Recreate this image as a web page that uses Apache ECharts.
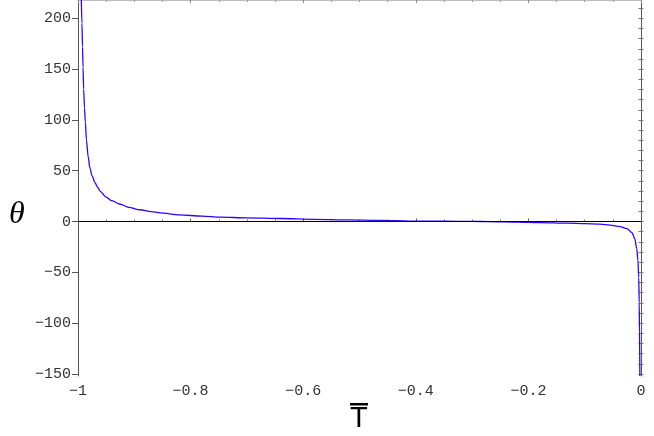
<!DOCTYPE html>
<html>
<head>
<meta charset="utf-8">
<script src="https://cdn.jsdelivr.net/npm/echarts@6/dist/echarts.min.js"></script>
<style>
  html, body { margin: 0; padding: 0; background: #fff; }
  #theta-chart { width: 654px; height: 436px; }
</style>
</head>
<body>
<div id="theta-chart"></div>
<script>
// reduced temperature T̄ and angle θ
const tValues = [
  -0.9941, -0.9930, -0.9920, -0.9910, -0.9900, -0.9885, -0.9870, -0.9850,
  -0.9820, -0.9790, -0.9750, -0.9700, -0.9650, -0.9600, -0.9500, -0.9400,
  -0.9250, -0.9100, -0.8900, -0.8700, -0.8540, -0.8200, -0.7800, -0.7470,
  -0.7000, -0.6400, -0.5800, -0.5200, -0.4600, -0.4100, -0.3500, -0.3000,
  -0.2700, -0.2200, -0.1800, -0.1300, -0.1000, -0.0730, -0.0550, -0.0374,
  -0.0250, -0.0160, -0.0110, -0.0075, -0.0055, -0.0040, -0.0032, -0.0026,
  -0.0020
];
const thetaValues = [
  218, 195, 172, 152, 130, 112, 98, 80,
  64, 53, 45, 38.5, 33.5, 29.5, 24, 20.5,
  17, 14, 11.6, 9.8, 8.6, 6.6, 5.3, 4.3,
  3.6, 3.0, 2.2, 1.6, 1.0, 0.5, 0.3, 0.1,
  0, -0.5, -1.0, -1.6, -2.0, -2.6, -3.5, -5,
  -7, -11, -17, -27, -38, -55, -80, -110,
  -152
];

const xTicks = [-1, -0.8, -0.6, -0.4, -0.2, 0];
const yTicks = [-150, -100, -50, 0, 50, 100, 150, 200];
const yAllTicks = [
  -150, -140, -130, -120, -110, -100, -90, -80, -70, -60, -50, -40, -30, -20, -10,
  0, 10, 20, 30, 40, 50, 60, 70, 80, 90, 100, 110, 120, 130, 140, 150, 160, 170,
  180, 190, 200, 210
];

const X_MIN = -1, X_MAX = 0;
const Y_MIN = -152, Y_MAX = 218;

const frameColor = '#555';
const monoFont = 'Liberation Mono';

function fmt(v) {
  if (Math.abs(v) < 1e-9) return '0';
  return String(+v.toFixed(1)).replace('-', '\u2212');
}

const seriesData = tValues.map((t, i) => [t, thetaValues[i]]);

const option = {
  animation: false,
  grid: { left: 78, right: 13, top: 0, bottom: 60, containLabel: false },
  xAxis: [
    {
      type: 'value', position: 'bottom', min: X_MIN, max: X_MAX, interval: 0.2,
      axisLine: { show: true, lineStyle: { color: frameColor, width: 1 } },
      axisTick: { show: true, inside: true, length: 3, lineStyle: { color: frameColor } },
      minorTick: { show: true, splitNumber: 4, length: 2, lineStyle: { color: '#777' } },
      axisLabel: {
        show: true, margin: 8, formatter: fmt,
        customValues: xTicks,
        fontFamily: monoFont, fontSize: 15, color: '#333'
      },
      splitLine: { show: false }
    },
    {
      type: 'value', position: 'top', min: X_MIN, max: X_MAX, interval: 0.2,
      axisLine: { show: true, onZero: false, lineStyle: { color: '#bbb', width: 1 } },
      axisTick: { show: true, inside: true, length: 3, lineStyle: { color: '#888' } },
      minorTick: { show: true, splitNumber: 4, length: 2, lineStyle: { color: '#999' } },
      axisLabel: { show: false },
      splitLine: { show: false }
    }
  ],
  yAxis: [
    {
      type: 'value', position: 'left', min: Y_MIN, max: Y_MAX,
      axisLine: { show: true, onZero: false, lineStyle: { color: frameColor, width: 1 } },
      axisTick: { show: true, inside: false, length: 6, customValues: yTicks, lineStyle: { color: frameColor } },
      axisLabel: {
        show: true, margin: 7, formatter: fmt, customValues: yTicks,
        fontFamily: monoFont, fontSize: 15, color: '#333'
      },
      splitLine: { show: false }
    },
    {
      type: 'value', position: 'left', min: Y_MIN, max: Y_MAX,
      axisLine: { show: false },
      axisTick: { show: true, inside: true, length: 2.5, customValues: yAllTicks, lineStyle: { color: '#777' } },
      axisLabel: { show: false },
      splitLine: { show: false }
    },
    {
      type: 'value', position: 'right', min: Y_MIN, max: Y_MAX,
      axisLine: { show: true, onZero: false, lineStyle: { color: frameColor, width: 1 } },
      axisTick: { show: true, inside: true, length: 2.5, customValues: yAllTicks, lineStyle: { color: '#777' } },
      axisLabel: { show: false },
      splitLine: { show: false }
    }
  ],
  series: [
    {
      name: 'theta',
      type: 'line',
      xAxisIndex: 0,
      yAxisIndex: 0,
      data: seriesData,
      showSymbol: false,
      smooth: 0.3,
      smoothMonotone: 'x',
      clip: true,
      lineStyle: { color: '#3300ff', width: 1.3 },
      markLine: {
        silent: true,
        symbol: 'none',
        label: { show: false },
        lineStyle: { color: '#000', width: 1, type: 'solid' },
        data: [{ yAxis: 0 }]
      }
    }
  ],
  graphic: [
    {
      type: 'text', left: 9, top: 199,
      style: { text: '\u03b8', font: 'italic 32px "Liberation Serif"', fill: '#000' }
    },
    {
      type: 'text', left: 350, top: 404,
      style: { text: 'T', font: '29px "Liberation Sans"', fill: '#000' }
    },
    {
      type: 'rect', shape: { x: 350, y: 403, width: 18, height: 2.5 },
      style: { fill: '#000' }
    }
  ]
};

const chartDom = document.getElementById('theta-chart');
const myChart = echarts.init(chartDom);
myChart.setOption(option);
window.addEventListener('resize', () => myChart.resize());
</script>
</body>
</html>
